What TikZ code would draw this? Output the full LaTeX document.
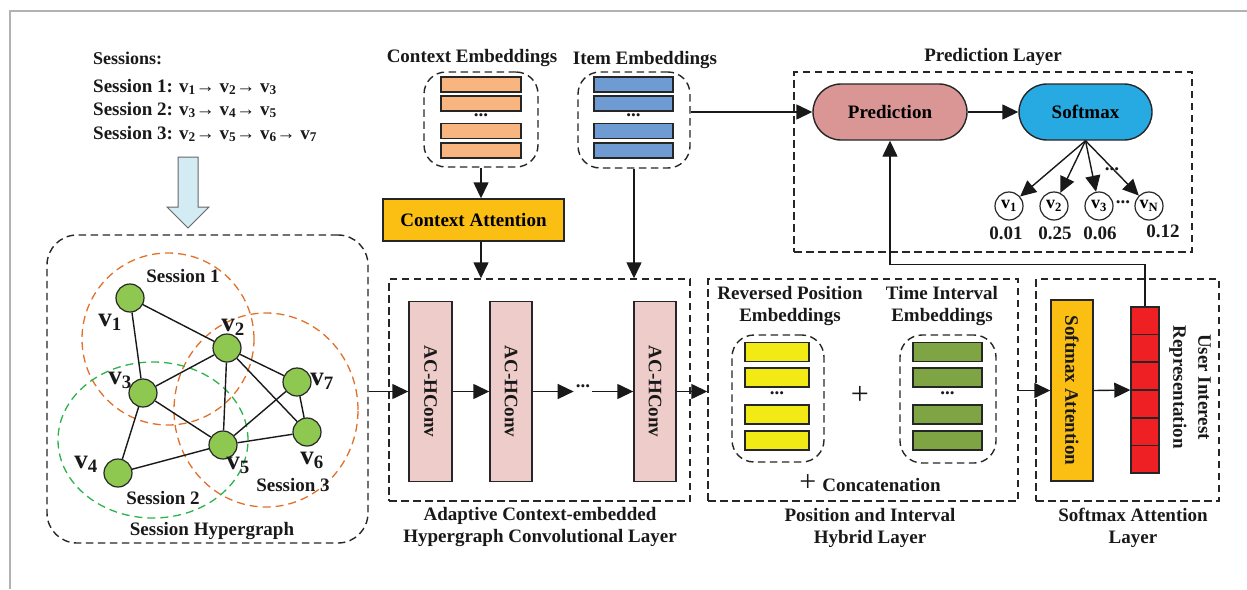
\documentclass[tikz,border=0pt]{standalone}
\usepackage{fontspec}
\setmainfont{Liberation Serif}
\usetikzlibrary{arrows.meta,calc}

\definecolor{vgreen}{HTML}{8FC850}
\definecolor{sessorange}{HTML}{E0702A}
\definecolor{sessgreen}{HTML}{2DB34A}
\definecolor{ctxbar}{HTML}{F8B580}
\definecolor{itembar}{HTML}{6F9BD3}
\definecolor{gold}{HTML}{FBBE12}
\definecolor{acpink}{HTML}{EECCCA}
\definecolor{posyellow}{HTML}{F2EA14}
\definecolor{intgreen}{HTML}{7EA443}
\definecolor{uired}{HTML}{EE2024}
\definecolor{predpink}{HTML}{D99694}
\definecolor{smblue}{HTML}{27AAE1}
\definecolor{hintblue}{HTML}{D3EBF2}

\newcommand{\vsub}[1]{v\textsubscript{#1}}

\begin{document}
\begin{tikzpicture}[x=1pt,y=-1pt,
  font=\fontsize{19}{22}\selectfont\bfseries,
  txt/.style={inner sep=0pt, text=black!90},
  dbox/.style={draw=black!85, dash pattern=on 7.5pt off 4.5pt, line width=1.4pt, inner sep=0pt},
  arr/.style={line width=1.4pt, draw=black!90, -{Triangle[length=16pt,width=15pt]}},
  bar/.style={draw=black!85, line width=1.4pt, inner sep=0pt, minimum height=16pt},
  vnode/.style={circle, draw=black!85, fill=vgreen, line width=1.2pt, minimum size=28pt, inner sep=0pt},
  edge/.style={line width=1.4pt, draw=black!90},
  pnode/.style={circle, draw=black!85, fill=white, line width=1.2pt, minimum size=28pt, inner sep=0pt, font=\fontsize{18}{20}\selectfont\bfseries},
  solid box/.style={draw=black!85, line width=1.4pt, inner sep=0pt},
  sessA/.style={draw=sessorange, dash pattern=on 8pt off 5pt, line width=1.3pt},
  sessB/.style={draw=sessgreen, dash pattern=on 8pt off 5pt, line width=1.3pt},
  bigv/.style={inner sep=0pt, text=black!90, font=\fontsize{27}{30}\selectfont\bfseries},
  dots/.style={inner sep=2pt, text=black!90}
]
\useasboundingbox (0,0) rectangle (1247,589);

% outer frame
\draw[black!30, line width=1.5pt] (10,589) -- (10,11) -- (1247,11);

% ---------------- session list ----------------
\node[txt, anchor=west] (slist) at (93,58) {\fontsize{18}{20}\selectfont Sessions:};
\node[txt, anchor=west] (s1) at (93,87) {Session 1: \vsub{1}→ \vsub{2}→ \vsub{3}};
\node[txt, anchor=west] (s2) at (93,110) {Session 2: \vsub{3}→ \vsub{4}→ \vsub{5}};
\node[txt, anchor=west] (s3) at (93,134) {Session 3: \vsub{2}→ \vsub{5}→ \vsub{6}→ \vsub{7}};

% hollow downward arrow
\draw[fill=hintblue, draw=black!60, line width=1pt]
  (178,157) -- (198,157) -- (198,207) -- (209,207) -- (188,228) -- (167,207) -- (178,207) -- cycle;

% ---------------- session hypergraph ----------------
\node[dbox, rounded corners=30pt, minimum width=321pt, minimum height=308pt] (hg) at (207.5,389) {};

\draw[sessA] (168,339) circle (86pt);
\draw[sessA] (266,410) ellipse [x radius=92pt, y radius=97pt];
\draw[sessB] (153,440) ellipse [x radius=95pt, y radius=78pt];

\node[vnode] (v1) at (130,298) {};
\node[vnode] (v2) at (227,348) {};
\node[vnode] (v3) at (143,393) {};
\node[vnode] (v4) at (118,473) {};
\node[vnode] (v5) at (223,445) {};
\node[vnode] (v6) at (307,432) {};
\node[vnode] (v7) at (297,382) {};

\foreach \a/\b in {v1/v3, v1/v2, v2/v3, v2/v5, v2/v7, v2/v6, v3/v5, v3/v4, v4/v5, v5/v7, v5/v6, v6/v7}
  \draw[edge] (\a) -- (\b);

\node[bigv] (l1) at (110,322) {\vsub{1}};
\node[bigv] (l2) at (233,327) {\vsub{2}};
\node[bigv] (l3) at (120,380) {\vsub{3}};
\node[bigv] (l4) at (86,464) {\vsub{4}};
\node[bigv] (l5) at (238,465) {\vsub{5}};
\node[bigv] (l6) at (312,460) {\vsub{6}};
\node[bigv] (l7) at (322,381) {\vsub{7}};

\node[txt] (sn1) at (183,276) {Session 1};
\node[txt] (sn2) at (163,498) {Session 2};
\node[txt] (sn3) at (293,485) {Session 3};
\node[txt] (hgl) at (212,531) {Session Hypergraph};

% ---------------- context / item embeddings ----------------
\node[txt] (ctxl) at (472,58) {Context Embeddings};
\node[txt] (iteml) at (645,60) {Item Embeddings};

\node[dbox, rounded corners=22pt, minimum width=114pt, minimum height=95pt] (ctx) at (481,119.5) {};
\node[dbox, rounded corners=22pt, minimum width=112pt, minimum height=96pt] (item) at (634,120) {};

\foreach \y [count=\i] in {84.5,103.5,131,150.5} {
  \node[bar, fill=ctxbar, minimum width=80pt, minimum height=15pt] (cb\i) at (481,\y) {};
  \node[bar, fill=itembar, minimum width=79pt, minimum height=15pt] (ib\i) at (633.5,\y) {};
}
\node[dots] (cdots) at (481,115) {...};
\node[dots] (idots) at (633.5,115) {...};

\node[solid box, fill=gold, minimum width=181pt, minimum height=42pt] (ca) at (473.5,220) {Context Attention};

\draw[arr] (ctx.south) -- (ctx.south |- ca.north);

% ---------------- adaptive context-embedded hypergraph conv layer ----------------
\node[dbox, minimum width=301pt, minimum height=222pt] (ach) at (539.5,390) {};
\draw[arr] (ctx.south |- ca.south) -- (ctx.south |- ach.north);
\draw[arr] (item.south) -- (item.south |- ach.north);

\node[solid box, fill=acpink, minimum width=43pt, minimum height=180pt] (ac1) at (430.5,391.5) {};
\node[solid box, fill=acpink, minimum width=42pt, minimum height=180pt] (ac2) at (511,391.5) {};
\node[solid box, fill=acpink, minimum width=42pt, minimum height=180pt] (ac3) at (655,391.5) {};
\foreach \n in {ac1,ac2,ac3}
  \node[txt, rotate=-90] at (\n) {AC-HConv};
\node[dots] (acdots) at (583,386) {...};

\draw[arr] (hg.east |- ac1.west) -- (ac1.west);
\draw[arr] (ac1.east) -- (ac2.west);
\draw[arr] (ac2.east) -- (acdots.west |- ac2.east);
\draw[arr] (acdots.east |- ac3.west) -- (ac3.west);

\node[txt, align=center] (achl) at (540,527) {Adaptive Context-embedded\\Hypergraph Convolutional Layer};

% ---------------- position and interval hybrid layer ----------------
\node[dbox, minimum width=310pt, minimum height=222pt] (pos) at (863,390) {};
\draw[arr] (ac3.east) -- (pos.west |- ac3.east);

\node[txt, align=center] (rpl) at (790,306) {Reversed Position\\Embeddings};
\node[txt, align=center] (til) at (942,306) {Time Interval\\Embeddings};

\node[dbox, rounded corners=22pt, minimum width=92pt, minimum height=127pt] (ybox) at (778,398.5) {};
\node[dbox, rounded corners=22pt, minimum width=96pt, minimum height=128pt] (gbox) at (948,399) {};
\foreach \y [count=\i] in {352,377.5,414.5,440.5} {
  \node[bar, fill=posyellow, minimum width=64pt, minimum height=19pt] (yb\i) at (777,\y) {};
  \node[bar, fill=intgreen, minimum width=69pt, minimum height=19pt] (gb\i) at (947.5,\y) {};
}
\node[dots] (ydots) at (777,393) {...};
\node[dots] (gdots) at (947.5,393) {...};

\node[txt, font=\fontsize{32}{32}\selectfont\mdseries] (plus) at (860,395) {+};
\node[txt] (concat) at (870,483) {{\fontsize{30}{30}\selectfont\mdseries +}\hspace{6pt}Concatenation};

\node[txt, align=center] (posl) at (870,528) {Position and Interval\\Hybrid Layer};

% ---------------- softmax attention layer ----------------
\node[dbox, minimum width=183pt, minimum height=222pt] (sal) at (1127.5,390) {};
\node[solid box, fill=gold, minimum width=42pt, minimum height=181pt] (sa) at (1072,390.5) {};
\node[txt, rotate=-90] at (sa) {Softmax Attention};
\node[solid box, fill=uired, minimum width=28pt, minimum height=166pt] (ur) at (1145,390) {};
\foreach \k in {1,...,5}
  \draw[black!85, line width=1.3pt] ($(ur.north west)!\k/6!(ur.south west)$) -- ($(ur.north east)!\k/6!(ur.south east)$);
\node[txt, rotate=-90, align=center, font=\fontsize{19}{25}\selectfont\bfseries] (url) at (1190,387) {User Interest\\Representation};

\draw[arr] (pos.east |- sa.west) -- (sa.west);
\draw[arr] (sa.east) -- (ur.west);

\node[txt, align=center] (sall) at (1133,528) {Softmax Attention\\Layer};

% ---------------- prediction layer ----------------
\node[dbox, minimum width=398pt, minimum height=180pt] (pl) at (993,162) {};
\node[txt] (pll) at (993,57) {Prediction Layer};

\node[solid box, fill=predpink, rounded corners=28pt, minimum width=154pt, minimum height=56pt] (pred) at (890,112) {Prediction};
\node[solid box, fill=smblue, rounded corners=28pt, minimum width=133pt, minimum height=56pt] (sm) at (1085.5,112) {Softmax};

\draw[arr] (item.east |- pred.west) -- (pred.west);
\draw[arr] (pred.east) -- (sm.west);
\draw[arr] (ur.north) -- ++(0,-42) -| (pred.south);

\node[pnode] (p1) at (1009,206) {\vsub{1}};
\node[pnode] (p2) at (1054,206) {\vsub{2}};
\node[pnode] (p3) at (1099,206) {\vsub{3}};
\node[pnode] (pN) at (1149,206) {\vsub{N}};
\foreach \p in {p1,p2,p3,pN}
  \draw[arr] (sm.south) -- (\p);
\node[dots] (pdots1) at (1112,169) {...};
\node[dots, inner sep=0pt] (pdots2) at (1123,202) {...};

\node[txt] (val1) at (1006,233) {0.01};
\node[txt] (val2) at (1055,233) {0.25};
\node[txt] (val3) at (1100,233) {0.06};
\node[txt] (valN) at (1163,231) {0.12};

\end{tikzpicture}
\end{document}
